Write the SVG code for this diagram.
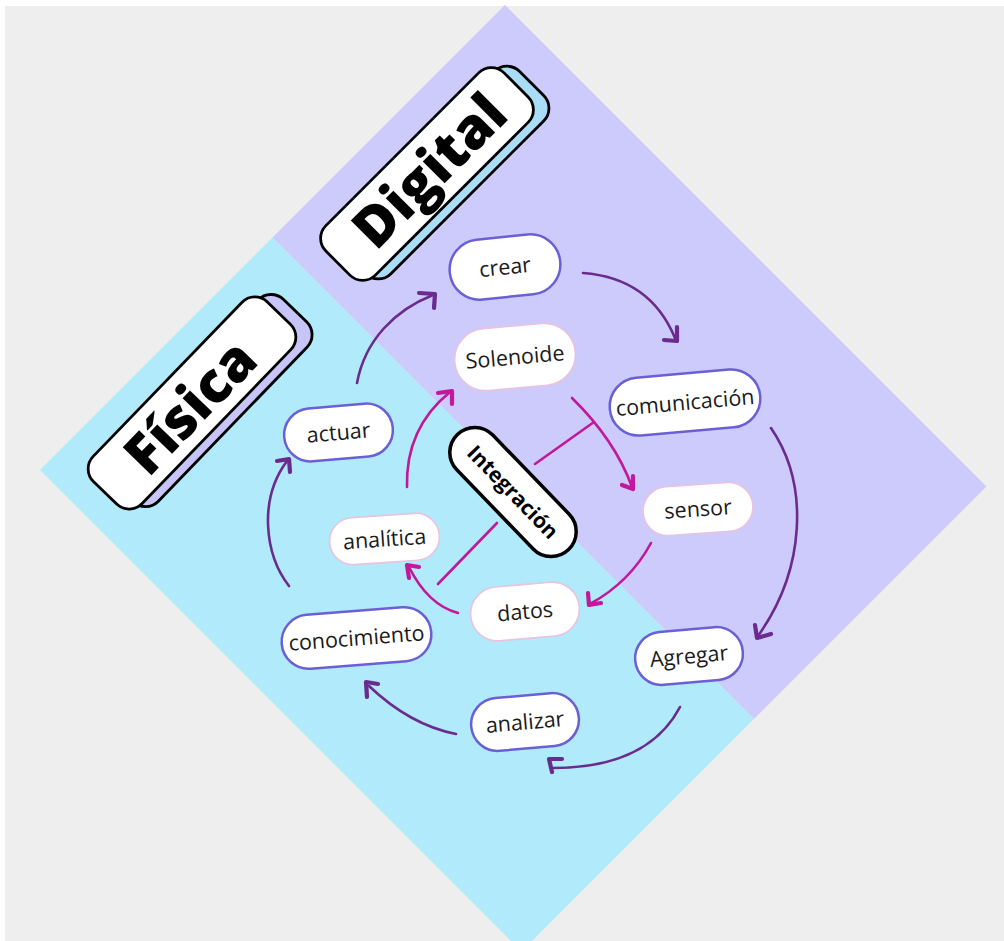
<svg xmlns="http://www.w3.org/2000/svg" width="1004" height="941" viewBox="0 0 1004 941">
  <style>
    .pill { fill: #ffffff; }
    .outer { stroke: #6b5fd6; stroke-width: 2.5; }
    .inner { stroke: #e9c2de; stroke-width: 1.6; }
    .lbl { font-family: "Open Sans", "Noto Sans", sans-serif; font-size: 21.5px; fill: #1a1a1a; text-anchor: middle; }
    .title { font-family: "Open Sans", "Noto Sans", sans-serif; font-size: 56px; font-weight: 800; fill: #000000; text-anchor: middle; }
    .card { fill: #ffffff; stroke: #000000; stroke-width: 2.8; }
    .core { fill: #ffffff; stroke: #000000; stroke-width: 3.5; }
    .core-lbl { font-family: "Open Sans", "Noto Sans", sans-serif; font-size: 21px; font-weight: 700; fill: #000000; text-anchor: middle; }
    .cyc { fill: none; stroke: #6b2a8e; stroke-width: 2.6; stroke-linecap: round; }
    .cyc-head { fill: none; stroke: #6b2a8e; stroke-width: 4.2; stroke-linecap: round; stroke-linejoin: round; }
    .mag { fill: none; stroke: #c1189c; stroke-width: 2.6; stroke-linecap: round; }
    .mag-head { fill: none; stroke: #c1189c; stroke-width: 4.2; stroke-linecap: round; stroke-linejoin: round; }
  </style>

  <!-- backdrop -->
  <rect x="0" y="0" width="1004" height="941" fill="#ffffff"/>
  <rect x="5" y="6" width="999" height="935" fill="#eeeeee"/>

  <!-- tilted square split into the two halves -->
  <g id="halves">
    <polygon points="505,5 986.5,486.5 754,719 272.5,237.5" fill="#cccbfb"/>
    <polygon points="272.5,237.5 754,719 521.5,951.5 40,470" fill="#b0eafb"/>
  </g>

  <!-- section labels -->
  <g id="label-digital" transform="translate(427,174) rotate(-45)">
    <rect x="-114" y="-25" width="252" height="70" rx="18" fill="#a9ddf6" stroke="#000" stroke-width="2.8"/>
    <rect x="-126" y="-35" width="252" height="70" rx="18" class="card"/>
    <text class="title" x="4" y="19">Digital</text>
  </g>

  <g id="label-fisica" transform="translate(192,403) rotate(-46)">
    <rect x="-112" y="-24" width="250" height="68" rx="18" fill="#c7c5f8" stroke="#000" stroke-width="2.8"/>
    <rect x="-125" y="-34" width="250" height="68" rx="18" class="card"/>
    <text class="title" x="-4" y="21">Física</text>
  </g>

  <!-- connectors -->
  <g id="connectors">
    <!-- outer cycle -->
    <path class="cyc" d="M583,273 Q650,278 675,338"/>
    <path class="cyc-head" d="M664,340 L677,341 L677,327"/>

    <path class="cyc" d="M771,428 C810,485 805,570 758,636"/>
    <path class="cyc-head" d="M755,625 L757,638 L771,634"/>

    <path class="cyc" d="M680,707 C660,745 620,768 553,768"/>
    <path class="cyc-head" d="M562,759 L549,759 L552,772"/>

    <path class="cyc" d="M456,734 Q410,725 369,686"/>
    <path class="cyc-head" d="M378,684 L366,682 L367,697"/>

    <path class="cyc" d="M289,586 C265,555 258,500 287,461"/>
    <path class="cyc-head" d="M277,461 L289,459 L290,472"/>

    <path class="cyc" d="M357,383 C365,340 395,310 433,295"/>
    <path class="cyc-head" d="M419,293 L435,294 L434,308"/>

    <!-- inner cycle -->
    <path class="mag" d="M572,398 Q615,440 632,487"/>
    <path class="mag-head" d="M622,485 L633,489 L633,476"/>

    <path class="mag" d="M651,543 Q630,582 590,604"/>
    <path class="mag-head" d="M588,593 L589,605 L601,603"/>

    <path class="mag" d="M458,613 Q428,605 409,567"/>
    <path class="mag-head" d="M419,567 L407,565 L409,578"/>

    <path class="mag" d="M407,487 C406,450 418,418 450,392"/>
    <path class="mag-head" d="M438,393 L452,391 L452,404"/>

    <!-- links from the core -->
    <path class="mag" d="M535,464 L594,422"/>
    <path class="mag" d="M497,523 L438,584"/>
  </g>

  <!-- core -->
  <g id="node-integracion" transform="translate(513,492) rotate(46)">
    <rect x="-80" y="-25" width="160" height="50" rx="25" class="core"/>
    <text class="core-lbl" x="0" y="7.5">Integración</text>
  </g>

  <!-- outer nodes -->
  <g id="node-crear" transform="translate(505,267) rotate(-6)">
    <rect x="-55.5" y="-30" width="111" height="60" rx="30" class="pill outer"/>
    <text class="lbl" x="0" y="7.5">crear</text>
  </g>
  <g id="node-comunicacion" transform="translate(685,402.5) rotate(-5)">
    <rect x="-75.5" y="-29" width="151" height="58" rx="29" class="pill outer"/>
    <text class="lbl" x="0" y="7.5">comunicación</text>
  </g>
  <g id="node-agregar" transform="translate(689,656) rotate(-5)">
    <rect x="-54" y="-26.5" width="108" height="53" rx="26.5" class="pill outer"/>
    <text class="lbl" x="0" y="7.5">Agregar</text>
  </g>
  <g id="node-analizar" transform="translate(525,722) rotate(-5)">
    <rect x="-54" y="-26.5" width="108" height="53" rx="26.5" class="pill outer"/>
    <text class="lbl" x="0" y="7.5">analizar</text>
  </g>
  <g id="node-conocimiento" transform="translate(356.5,638) rotate(-4.5)">
    <rect x="-75" y="-27" width="150" height="54" rx="27" class="pill outer"/>
    <text class="lbl" x="0" y="7.5">conocimiento</text>
  </g>
  <g id="node-actuar" transform="translate(338.5,432.5) rotate(-5)">
    <rect x="-54.5" y="-26.5" width="109" height="53" rx="26.5" class="pill outer"/>
    <text class="lbl" x="0" y="7.5">actuar</text>
  </g>

  <!-- inner nodes -->
  <g id="node-solenoide" transform="translate(515,357) rotate(-5)">
    <rect x="-60.5" y="-31" width="121" height="62" rx="31" class="pill inner"/>
    <text class="lbl" x="0" y="7.5">Solenoide</text>
  </g>
  <g id="node-sensor" transform="translate(698,509) rotate(-4)">
    <rect x="-55" y="-24.5" width="110" height="49" rx="24.5" class="pill inner"/>
    <text class="lbl" x="0" y="7.5">sensor</text>
  </g>
  <g id="node-datos" transform="translate(525,611.5) rotate(-5)">
    <rect x="-54.5" y="-27" width="109" height="54" rx="27" class="pill inner"/>
    <text class="lbl" x="0" y="7.5">datos</text>
  </g>
  <g id="node-analitica" transform="translate(384.5,539) rotate(-4)">
    <rect x="-55" y="-23.5" width="110" height="47" rx="23.5" class="pill inner"/>
    <text class="lbl" x="0" y="7.5">analítica</text>
  </g>
</svg>
